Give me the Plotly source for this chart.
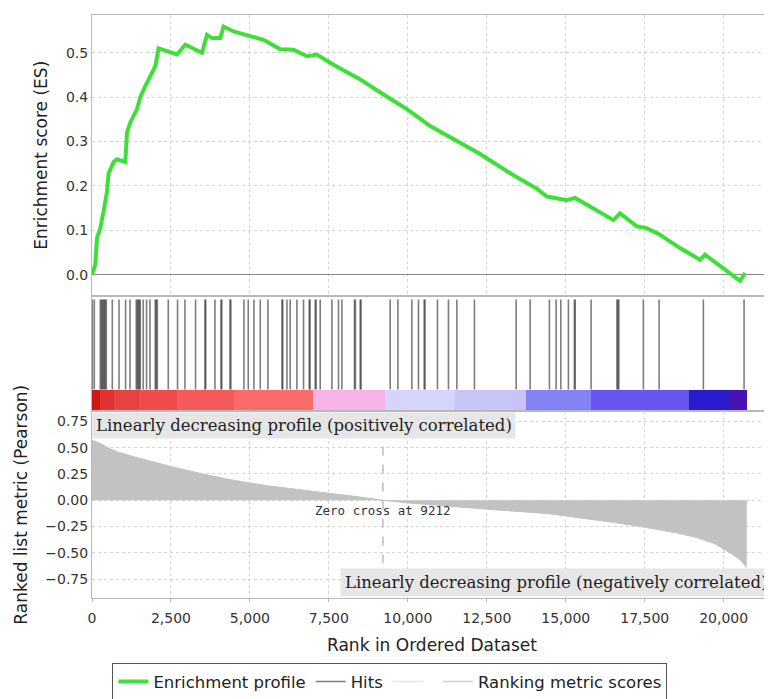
import numpy as np
import plotly.graph_objects as go

# ---------------- data ----------------
es_rank = [0, 104, 158, 263, 367, 475, 525, 684, 791, 1054, 1108, 1212, 1424, 1529, 1687,
           1845, 2004, 2108, 2374, 2690, 2953, 3482, 3640, 3798, 4061, 4165, 4482, 4906,
           5431, 5960, 6381, 6805, 7121, 7647, 8492, 9229, 9970, 10707, 11445, 12290,
           13344, 14084, 14401, 15034, 15297, 15876, 16509, 16720, 17249, 17565, 17985,
           18617, 19250, 19408, 20098, 20519, 20678]
es_value = [0.0, 0.023, 0.083, 0.105, 0.143, 0.187, 0.228, 0.254, 0.26, 0.254, 0.32, 0.343,
            0.373, 0.40, 0.425, 0.447, 0.47, 0.51, 0.503, 0.496, 0.518, 0.50, 0.54, 0.533,
            0.533, 0.559, 0.548, 0.54, 0.529, 0.508, 0.507, 0.492, 0.496, 0.473, 0.44,
            0.406, 0.373, 0.335, 0.306, 0.272, 0.224, 0.194, 0.176, 0.168, 0.173, 0.15,
            0.123, 0.138, 0.109, 0.105, 0.09, 0.06, 0.034, 0.045, 0.008, -0.014, 0.004]

hit_ranks = [10, 73, 263, 300, 326, 360, 389, 420, 453, 643, 855, 1063, 1203, 1402, 1440, 1465,
             1500, 1528, 1623, 1728, 1836, 2003, 2035, 2067, 2415, 2709, 2943, 3279, 3576,
             3600, 3893, 4083, 4110, 4368, 4395, 4811, 4947, 5127, 5327, 5570, 6014, 6040,
             6172, 6276, 6488, 6697, 6878, 6905, 7068, 7095, 7226, 7596, 7805, 7913, 8311,
             8340, 8492, 8520, 9441, 9685, 10128, 10337, 10517, 10545, 10938, 11286, 11552,
             12109, 13429, 13872, 14483, 14695, 14844, 15084, 15274, 15300, 15803, 16620,
             16650, 16680, 17458, 17955, 19357, 20646]

metric_rank = [0, 100, 263, 500, 800, 1310, 2000, 2500, 3500, 4480, 5500, 6500, 7500, 8500,
               9212, 10000, 11236, 12500, 14400, 15034, 16500, 17565, 18500, 19148, 19700,
               20200, 20500, 20731]
metric_value = [0.57, 0.56, 0.54, 0.50, 0.46, 0.415, 0.36, 0.32, 0.25, 0.19, 0.14, 0.10,
                0.066, 0.03, 0.0, -0.025, -0.057, -0.085, -0.126, -0.15, -0.21, -0.26,
                -0.31, -0.355, -0.41, -0.50, -0.56, -0.64]

zero_cross = 9212

band_edges = [0, 250, 700, 1500, 2700, 4500, 7004, 9283, 11500, 13745, 15803, 18904, 20202, 20737]
band_colors = ["#cc1a10", "#e23232", "#ea4242", "#ef4d4d", "#f45a5a", "#f86c6c",
               "#f6b4e6", "#d6d4fa", "#c8c4f6", "#8282f6", "#6655ee", "#2a1ccc", "#4a12b2"]

x_ticks = [0, 2500, 5000, 7500, 10000, 12500, 15000, 17500, 20000]

# ---------------- figure ----------------
GRID = "#d4d4d4"
FRAME = "#b8b8b8"
TICKFONT = dict(family="DejaVu Sans", size=14, color="#333333")
TITLEFONT = dict(family="DejaVu Sans", size=17, color="#222222")

fig = go.Figure()

# Enrichment profile
fig.add_trace(go.Scatter(x=es_rank, y=es_value, mode="lines", name="Enrichment profile",
                         line=dict(color="#3ee038", width=4), xaxis="x", yaxis="y"))

# Hits
hx, hy = [], []
for h in hit_ranks:
    hx += [h, h, None]
    hy += [0.19, 0.966, None]
fig.add_trace(go.Scatter(x=hx, y=hy, mode="lines", name="Hits",
                         line=dict(color="rgba(40,40,40,0.6)", width=1.6),
                         xaxis="x2", yaxis="y2"))

# blank legend item (as in reference)
fig.add_trace(go.Scatter(x=[None], y=[None], mode="lines", name=" ",
                         line=dict(color="#e4e4e4", width=1.5), xaxis="x2", yaxis="y2"))

# colour band
edges = np.array(band_edges, dtype=float)
fig.add_trace(go.Bar(x=(edges[:-1] + edges[1:]) / 2, y=[0.19] * len(band_colors),
                     width=np.diff(edges), base=0, marker=dict(color=band_colors, line=dict(width=0)),
                     showlegend=False, xaxis="x2", yaxis="y2", hoverinfo="skip"))

# Ranking metric
fig.add_trace(go.Scatter(x=metric_rank, y=metric_value, mode="lines", fill="tozeroy",
                         fillcolor="#c2c2c2", line=dict(color="#c2c2c2", width=1),
                         showlegend=False, xaxis="x3", yaxis="y3"))
fig.add_trace(go.Scatter(x=[None], y=[None], mode="lines", name="Ranking metric scores",
                         line=dict(color="#d2d2d2", width=1.5), xaxis="x3", yaxis="y3"))

# zero cross dashed line
fig.add_trace(go.Scatter(x=[zero_cross, zero_cross], y=[0.51, -0.595], mode="lines",
                         line=dict(color="#999999", width=1, dash="dash"),
                         showlegend=False, xaxis="x3", yaxis="y3"))

xr = [0, 21530]
common_x = dict(range=xr, tickvals=x_ticks, showline=True, mirror=True, linecolor=FRAME,
                linewidth=1, zeroline=False, automargin=False)

fig.update_layout(
    width=772, height=699,
    margin=dict(l=84, r=8, t=7, b=104),
    paper_bgcolor="white", plot_bgcolor="white",
    bargap=0,
    xaxis=dict(domain=[0, 1], anchor="y", showticklabels=False, showgrid=True,
               gridcolor=GRID, griddash="dot", **common_x),
    yaxis=dict(domain=[0.5187, 1], anchor="x", range=[-0.047, 0.585],
               tickvals=[0.0, 0.1, 0.2, 0.3, 0.4, 0.5], tickformat=".1f",
               showgrid=True, gridcolor=GRID, griddash="dot", showline=True, mirror=True,
               linecolor=FRAME, zeroline=True, zerolinecolor="#8a8a8a", zerolinewidth=1,
               tickfont=TICKFONT, automargin=False,
               title=dict(text="Enrichment score (ES)", font=TITLEFONT, standoff=13)),
    xaxis2=dict(domain=[0, 1], anchor="y2", showticklabels=False, showgrid=False,
                matches="x", **common_x),
    yaxis2=dict(domain=[0.32, 0.5187], anchor="x2", range=[0, 1], showticklabels=False,
                showgrid=False, zeroline=False, showline=True, mirror=True, linecolor=FRAME,
                automargin=False),
    xaxis3=dict(domain=[0, 1], anchor="y3", showticklabels=True, showgrid=True,
                gridcolor=GRID, griddash="dot", tickformat=",", ticks="outside", ticklen=3,
                tickcolor=FRAME, tickfont=TICKFONT, matches="x", ticklabelstandoff=4,
                title=dict(text="Rank in Ordered Dataset", font=TITLEFONT, standoff=14),
                **common_x),
    yaxis3=dict(domain=[0, 0.32], anchor="x3", range=[-0.929, 0.844],
                tickvals=[-0.75, -0.5, -0.25, 0.0, 0.25, 0.5, 0.75], tickformat=".2f",
                showgrid=True, gridcolor=GRID, griddash="dot", zeroline=False,
                showline=True, mirror=True, linecolor=FRAME, tickfont=TICKFONT,
                automargin=False,
                title=dict(text="Ranked list metric (Pearson)", font=TITLEFONT, standoff=13)),
    legend=dict(orientation="h", x=0.03, y=-0.112, xanchor="left", yanchor="top",
                bordercolor="#555555", borderwidth=1, bgcolor="white",
                font=dict(family="DejaVu Sans", size=16.5, color="#222222"),
                tracegroupgap=0, itemwidth=30),
    showlegend=True,
)

SERIF = dict(family="DejaVu Serif", size=16.5, color="#222222")
fig.add_annotation(xref="x3", yref="y3", x=0, y=0.835, xanchor="left", yanchor="top",
                   text="Linearly decreasing profile (positively correlated)",
                   showarrow=False, font=SERIF, bgcolor="#e6e6e6", borderpad=3)
fig.add_annotation(xref="paper", yref="y3", x=1, y=-0.64, xanchor="right", yanchor="top",
                   text="Linearly decreasing profile (negatively correlated)",
                   showarrow=False, font=SERIF, bgcolor="#e6e6e6", borderpad=4)
fig.add_annotation(xref="x3", yref="y3", x=zero_cross, y=-0.01, xanchor="center", yanchor="top",
                   text="Zero cross at " + str(zero_cross), showarrow=False,
                   font=dict(family="DejaVu Sans Mono", size=12.5, color="#333333"))

fig.write_html("out.html")
